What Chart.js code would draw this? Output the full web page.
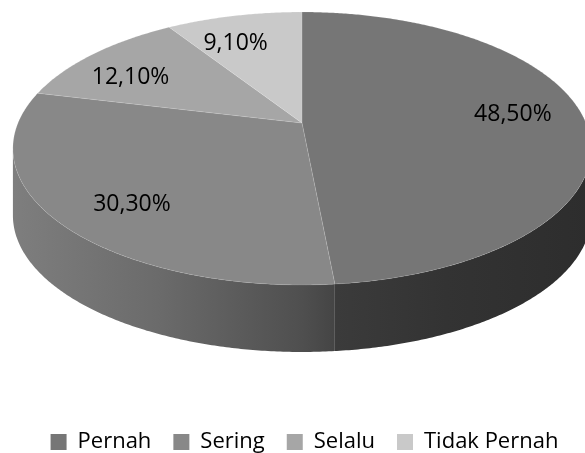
<!DOCTYPE html>
<html lang="id">
<head>
    <meta charset="UTF-8">
    <title>Grafik</title>
    <style>
        body { margin: 0; background: #ffffff; }
        #grafico { display: block; }
    </style>
</head>
<body>
    <canvas id="grafico" width="585" height="453"></canvas>
    <script src="https://cdn.jsdelivr.net/npm/chart.js"></script>
    <script>
        const kategori = ['Pernah', 'Sering', 'Selalu', 'Tidak Pernah']
        const nilai = [48.5, 30.3, 12.1, 9.1]
        const warna = ['#767676', '#888888', '#a6a6a6', '#c9c9c9']

        // perspective of the 3d disc (centre, half axes, tilt, thickness)
        const pusatX = 302, pusatY = 123
        const sumbuA = 284, sumbuB = 131.7
        const miring = 0.1868
        const tebal = 67

        const proyeksi = (sudut, r) => {
            const u = r * Math.cos(sudut)
            const w = r * Math.sin(sudut)
            const s = 1 / (1 - miring * w)
            return [pusatX + sumbuA * u * s, pusatY + sumbuB * w * s]
        }

        // silhouette angles (left / right edge of the disc)
        const sudutKanan = Math.asin(miring)
        const sudutKiri = Math.PI - sudutKanan

        const gelap = (hex, f) => {
            const v = parseInt(hex.slice(1, 3), 16)
            const c = Math.round(v * f)
            return `rgb(${c},${c},${c})`
        }

        const pie3d = {
            id: 'pie3d',
            beforeDatasetsDraw(chart) {
                const ctx = chart.ctx
                const arcs = chart.getDatasetMeta(0).data
                const langkah = Math.PI / 360

                ctx.save()
                // side walls
                arcs.forEach((arc, i) => {
                    let a1 = Math.max(arc.startAngle, sudutKanan)
                    let a2 = Math.min(arc.endAngle, sudutKiri)
                    if (a2 <= a1) return
                    const atas = []
                    for (let a = a1; a < a2; a += langkah) atas.push(proyeksi(a, 1))
                    atas.push(proyeksi(a2, 1))
                    ctx.beginPath()
                    atas.forEach((p, j) => j ? ctx.lineTo(p[0], p[1]) : ctx.moveTo(p[0], p[1]))
                    for (let j = atas.length - 1; j >= 0; j--) ctx.lineTo(atas[j][0], atas[j][1] + tebal)
                    ctx.closePath()
                    const g = ctx.createLinearGradient(13, 0, 591, 0)
                    g.addColorStop(0, gelap(warna[i], 0.93))
                    g.addColorStop(0.25, gelap(warna[i], 0.79))
                    g.addColorStop(0.5, gelap(warna[i], 0.58))
                    g.addColorStop(0.56, gelap(warna[i], 0.5))
                    g.addColorStop(0.75, gelap(warna[i], 0.43))
                    g.addColorStop(1, gelap(warna[i], 0.38))
                    ctx.fillStyle = g
                    ctx.fill()
                })

                // top faces
                arcs.forEach((arc, i) => {
                    const c = proyeksi(0, 0)
                    ctx.beginPath()
                    ctx.moveTo(c[0], c[1])
                    for (let a = arc.startAngle; a < arc.endAngle; a += langkah) {
                        const p = proyeksi(a, 1)
                        ctx.lineTo(p[0], p[1])
                    }
                    const e = proyeksi(arc.endAngle, 1)
                    ctx.lineTo(e[0], e[1])
                    ctx.closePath()
                    ctx.fillStyle = warna[i]
                    ctx.fill()
                    ctx.strokeStyle = 'rgba(255,255,255,0.15)'
                    ctx.lineWidth = 0.8
                    ctx.stroke()
                })

                // data labels
                ctx.font = '23px "Open Sans"'
                ctx.fillStyle = '#000000'
                ctx.textAlign = 'center'
                ctx.textBaseline = 'middle'
                arcs.forEach((arc, i) => {
                    const tengah = (arc.startAngle + arc.endAngle) / 2 - 4 * Math.PI / 180
                    const p = proyeksi(tengah, 0.76)
                    const teks = nilai[i].toFixed(2).replace('.', ',') + '%'
                    ctx.fillText(teks, p[0], p[1] + 3)
                })
                ctx.restore()
                return false
            }
        }

        const grafik = new Chart(document.getElementById('grafico'), {
            type: 'pie',
            data: {
                labels: kategori,
                datasets: [{
                    data: nilai,
                    backgroundColor: warna,
                    borderWidth: 0
                }]
            },
            options: {
                responsive: false,
                animation: false,
                events: [],
                layout: { padding: { left: 24, bottom: -10 } },
                plugins: {
                    tooltip: { enabled: false },
                    legend: {
                        position: 'bottom',
                        labels: {
                            color: '#000000',
                            font: { family: 'Open Sans', size: 22 },
                            boxWidth: 16,
                            boxHeight: 16,
                            padding: 22
                        }
                    }
                }
            },
            plugins: [pie3d]
        })
    </script>
</body>
</html>
